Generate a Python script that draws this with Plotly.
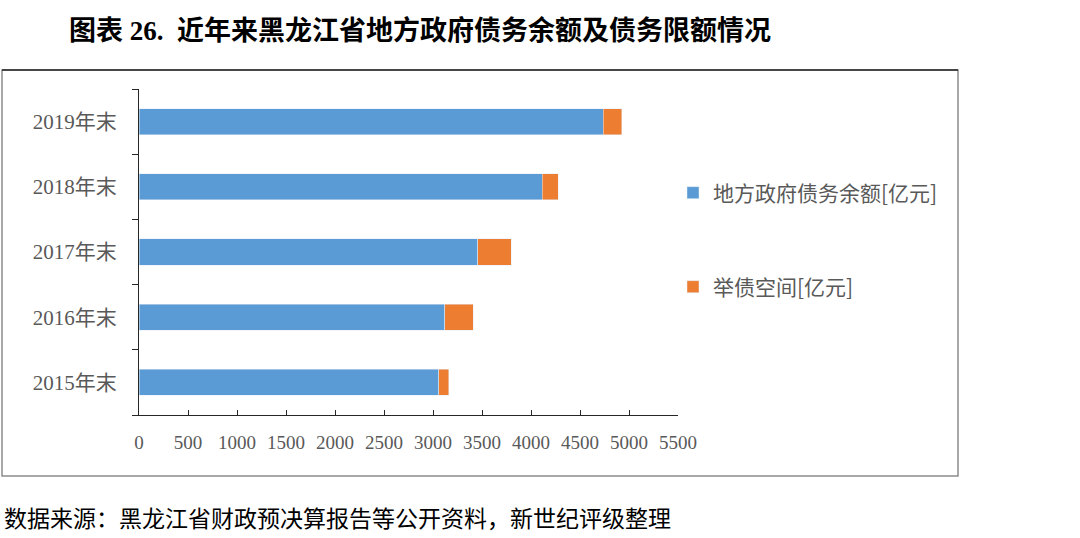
import plotly.graph_objects as go

# data (亿元)
years = ["2015年末", "2016年末", "2017年末", "2018年末", "2019年末"]
debt_balance = [3061, 3122, 3456, 4115, 4737]
debt_room = [99, 289, 340, 163, 188]
x_ticks = [0, 500, 1000, 1500, 2000, 2500, 3000, 3500, 4000, 4500, 5000, 5500]

fig = go.Figure()

fig.add_trace(
    go.Bar(
        y=years,
        x=debt_balance,
        orientation="h",
        name="地方政府债务余额[亿元]",
        marker_color="#5B9BD5",
        legend="legend",
        showlegend=True,
    )
)
fig.add_trace(
    go.Bar(
        y=years,
        x=debt_room,
        orientation="h",
        name="举债空间[亿元]",
        marker_color="#ED7D31",
        legend="legend2",
        showlegend=True,
    )
)

# plot area placed in pixels: left 139, right 678, top 89, bottom 415
L, R, T, B = 139, 678, 89, 415


def px_x(p):
    return (p - L) / (R - L)


def px_y(p):
    return (B - p) / (B - T)


cjk = "Noto Sans CJK SC"
serif_cjk = "Liberation Serif, Noto Sans CJK SC"

legend_style = dict(
    xanchor="left", yanchor="middle",
    font=dict(family=cjk, size=21, color="#595959"),
    itemwidth=30, bgcolor="rgba(0,0,0,0)",
)

fig.update_layout(
    width=1080,
    height=538,
    barmode="stack",
    bargap=0.6,
    showlegend=True,
    paper_bgcolor="white",
    plot_bgcolor="white",
    margin=dict(l=L, r=1080 - R, t=T, b=538 - B, autoexpand=False),
    font=dict(family=serif_cjk, color="#595959"),
    legend=dict(x=px_x(673), y=px_y(193), **legend_style),
    legend2=dict(x=px_x(673), y=px_y(287), **legend_style),
    shapes=[
        dict(
            type="rect", xref="paper", yref="paper",
            x0=px_x(2), x1=px_x(958), y0=px_y(476), y1=px_y(70),
            line=dict(color="#8C8C8C", width=1.5), layer="below",
        ),
        dict(
            type="line", xref="paper", yref="paper",
            x0=px_x(2), x1=px_x(958), y0=px_y(70), y1=px_y(70),
            line=dict(color="#262626", width=1.5), layer="below",
        ),
    ],
    annotations=[
        dict(
            text="<b>图表 26.  近年来黑龙江省地方政府债务余额及债务限额情况</b>",
            xref="paper", yref="paper", x=px_x(67), y=px_y(31),
            xanchor="left", yanchor="middle", showarrow=False,
            font=dict(family=serif_cjk, size=27, color="black"),
        ),
        dict(
            text="数据来源：黑龙江省财政预决算报告等公开资料，新世纪评级整理",
            xref="paper", yref="paper", x=px_x(2), y=px_y(517),
            xanchor="left", yanchor="middle", showarrow=False,
            font=dict(family=cjk, size=23, color="black"),
        ),
    ],
)

fig.update_xaxes(
    range=[0, 5500],
    tickvals=x_ticks,
    ticks="inside",
    ticklen=5,
    tickcolor="#262626",
    showline=True,
    linecolor="#262626",
    linewidth=1,
    showgrid=False,
    zeroline=False,
    tickfont=dict(family="Liberation Serif", size=19, color="#595959"),
    ticklabelstandoff=10,
    fixedrange=True,
)
fig.update_yaxes(
    type="category",
    categoryorder="array",
    categoryarray=years,
    tickson="boundaries",
    ticks="outside",
    ticklen=6,
    tickcolor="#262626",
    showline=True,
    linecolor="#262626",
    linewidth=1,
    showgrid=False,
    tickfont=dict(family=serif_cjk, size=21, color="#595959"),
    ticklabelstandoff=17,
    fixedrange=True,
)

# page body margin would shift the figure by 8px
fig.write_html(
    "out.html",
    config={"displayModeBar": False},
    post_script="document.body.style.margin='0';",
)
